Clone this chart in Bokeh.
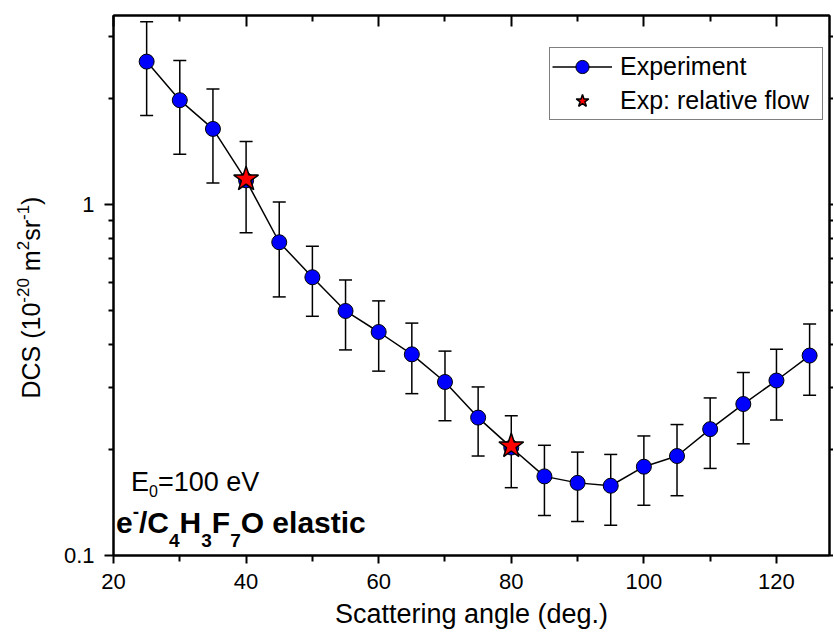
import math
from bokeh.plotting import figure
from bokeh.layouts import row
from bokeh.models import (Range1d, LinearAxis, LogAxis, FixedTicker, CustomJSTickFormatter,
                          ColumnDataSource, Whisker, TeeHead, Label, Legend, LegendItem)
from bokeh.embed import file_html
from bokeh.resources import INLINE

# ---------------- data ----------------
angles = [25, 30, 35, 40, 45, 50, 55, 60, 65, 70, 75, 80, 85, 90, 95, 100, 105, 110, 115, 120, 125]
dcs = [2.55, 1.98, 1.64, 1.17, 0.78, 0.62, 0.497, 0.433, 0.374, 0.312, 0.247, 0.203,
       0.168, 0.161, 0.158, 0.179, 0.192, 0.229, 0.27, 0.315, 0.371]
dcs_err = [0.76, 0.59, 0.49, 0.34, 0.235, 0.14, 0.112, 0.098, 0.085, 0.07, 0.055, 0.047,
           0.038, 0.036, 0.036, 0.04, 0.044, 0.052, 0.062, 0.072, 0.085]
rel_angles = [40, 80]
rel_dcs = [1.18, 0.205]

x_ticks = [20, 40, 60, 80, 100, 120]
x_minor = [30, 50, 70, 90, 110]
y_ticks = [0.1, 1]
y_minor = [0.2, 0.3, 0.4, 0.5, 0.6, 0.7, 0.8, 0.9, 2, 3]

FONT = "Liberation Sans"

# Arial-compatible advance widths (per 1000 em) for placing composed labels
REG = {' ': 278, '=': 584, 'E': 667, 'V': 667, 'e': 556, '(': 333, ')': 333, '-': 333,
       'D': 722, 'C': 722, 'S': 667, 'm': 833, 's': 500, 'r': 333}
BOLD = {' ': 278, '/': 278, '-': 333, 'C': 722, 'H': 722, 'F': 611, 'O': 778, 'e': 556,
        'l': 278, 'a': 556, 's': 556, 't': 333, 'i': 278, 'c': 556}
for d in "0123456789":
    REG[d] = 556
    BOLD[d] = 556


def tw(s, size, bold=False):
    t = BOLD if bold else REG
    return sum(t.get(c, 556) for c in s) * size / 1000.0


H = 632
LEFT_W = 60
B_TOP = 15
B_BOT = 77
FRAME_H = H - B_TOP - B_BOT          # 540
FRAME_BOTTOM = B_TOP + FRAME_H       # screen y of the frame bottom (555)

# ---------------- narrow strip carrying the rotated y-axis title ----------------
t = figure(width=LEFT_W, height=H, x_range=Range1d(0, LEFT_W), y_range=Range1d(0, FRAME_H),
           output_backend="svg", toolbar_location=None, x_axis_location=None,
           y_axis_location=None, min_border_left=0, min_border_right=0,
           min_border_top=B_TOP, min_border_bottom=B_BOT)
t.outline_line_color = None
t.background_fill_color = "white"
t.border_fill_color = "white"
t.xgrid.visible = False
t.ygrid.visible = False

# (text, kind, leading gap in em of the normal font)
yparts = [("DCS (10", "n", 0), ("-20", "sup", 0), ("m", "n", 0.278), ("2", "sup", 0),
          ("sr", "n", 0), ("-1", "sup", 0), (")", "n", 0)]
pos = FRAME_BOTTOM - 398
for txt, kind, gap in yparts:
    size = 25 if kind == "n" else 17
    xb = 30.0 if kind == "n" else 22.0
    pos += gap * 25
    t.add_layout(Label(x=xb, y=pos, text=txt, angle=math.pi / 2, text_font=FONT,
                       text_font_size=f"{size}px", text_color="black",
                       text_align="left", text_baseline="alphabetic"))
    pos += tw(txt, size)

# ---------------- main figure ----------------
p = figure(width=833 - LEFT_W, height=H, x_range=Range1d(20, 128), y_range=Range1d(0.1, 3.45),
           y_axis_type="log", output_backend="svg", toolbar_location=None,
           min_border_left=110 - LEFT_W, min_border_right=4, min_border_top=B_TOP,
           min_border_bottom=B_BOT)
p.background_fill_color = "white"
p.border_fill_color = "white"
p.outline_line_color = "black"
p.outline_line_width = 2
p.xgrid.visible = False
p.ygrid.visible = False

blank = CustomJSTickFormatter(code="return '';")


def style(ax, t_in, t_out, m_in, m_out):
    ax.axis_line_color = "black"
    ax.axis_line_width = 2
    ax.major_tick_line_color = "black"
    ax.minor_tick_line_color = "black"
    ax.major_tick_line_width = 2
    ax.minor_tick_line_width = 2
    ax.major_tick_in = t_in
    ax.major_tick_out = t_out
    ax.minor_tick_in = m_in
    ax.minor_tick_out = m_out
    ax.major_label_text_font = FONT
    ax.major_label_text_font_size = "22px"
    ax.major_label_text_color = "black"


xa = p.xaxis[0]
xa.ticker = FixedTicker(ticks=x_ticks, minor_ticks=x_minor)
style(xa, 0, 8, 0, 6)
xa.major_label_standoff = 10
xa.axis_label = "Scattering angle (deg.)"
xa.axis_label_text_font = FONT
xa.axis_label_text_font_size = "27px"
xa.axis_label_text_font_style = "normal"
xa.axis_label_text_color = "black"
xa.axis_label_standoff = 7

ya = p.yaxis[0]
ya.ticker = FixedTicker(ticks=y_ticks, minor_ticks=y_minor)
ya.formatter = CustomJSTickFormatter(code="return String(tick);")
style(ya, 0, 9, 0, 5)
ya.major_label_standoff = 10

top = LinearAxis(ticker=FixedTicker(ticks=x_ticks, minor_ticks=x_minor), formatter=blank)
style(top, 11, 0, 6, 0)
p.add_layout(top, "above")

right = LogAxis(ticker=FixedTicker(ticks=y_ticks, minor_ticks=y_minor), formatter=blank)
style(right, 0, 4, 0, 4)
p.add_layout(right, "right")

# ---------------- error bars, line, markers ----------------
src = ColumnDataSource(dict(x=angles, y=dcs,
                            upper=[v + e for v, e in zip(dcs, dcs_err)],
                            lower=[v - e for v, e in zip(dcs, dcs_err)]))
wh = Whisker(source=src, base="x", upper="upper", lower="lower",
             line_color="black", line_width=1.5, level="underlay",
             upper_head=TeeHead(size=13, line_color="black", line_width=1.5),
             lower_head=TeeHead(size=13, line_color="black", line_width=1.5))
p.add_layout(wh)

line_r = p.line("x", "y", source=src, line_color="black", line_width=1.5)
circ_r = p.scatter("x", "y", source=src, marker="circle", size=15,
                   fill_color="#0000FF", line_color="black", line_width=1)
star_r = p.scatter(rel_angles, rel_dcs, marker="star", size=26,
                   fill_color="#FF0000", line_color="black", line_width=1.5)

legend = Legend(items=[LegendItem(label="Experiment", renderers=[line_r, circ_r]),
                       LegendItem(label="Exp: relative flow", renderers=[star_r])],
                location=(436, 435), orientation="vertical",
                border_line_color="black", border_line_width=1.2,
                background_fill_color="white", background_fill_alpha=1.0,
                label_text_font=FONT, label_text_font_size="25px", label_text_color="black",
                glyph_width=60, glyph_height=33, label_standoff=8, label_width=200,
                padding=2, spacing=1, margin=0)
p.add_layout(legend)


# ---------------- composed texts (anchored at frame's bottom-left corner) ----------------
def piece(text, dx, dy, size, bold=False):
    p.add_layout(Label(x=20, y=0.1, x_offset=dx, y_offset=dy, text=text,
                       text_font=FONT, text_font_size=f"{size}px",
                       text_font_style="bold" if bold else "normal",
                       text_color="black", text_align="left", text_baseline="alphabetic"))


# E0=100 eV
x0 = 17.5
piece("E", x0, 74, 27)
x0 += tw("E", 27)
piece("0", x0, 65, 16)
x0 += tw("0", 16)
piece("=100 eV", x0, 74, 27)

# e-/C4H3F7O elastic (bold)
parts = [("e", "n"), ("-", "sup"), ("/C", "n"), ("4", "sub"), ("H", "n"), ("3", "sub"),
         ("F", "n"), ("7", "sub"), ("O elastic", "n")]
x0 = 2.5
for txt, kind in parts:
    size = 30 if kind == "n" else 19
    dy = {"n": 33, "sub": 15, "sup": 44}[kind]
    piece(txt, x0, dy, size, bold=True)
    x0 += tw(txt, size, bold=True)

layout = row(t, p, spacing=0)
open("out.html", "w").write(file_html(layout, INLINE))
